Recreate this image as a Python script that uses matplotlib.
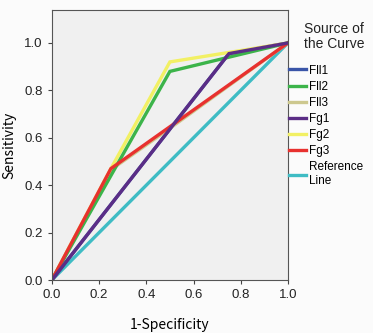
import matplotlib
matplotlib.use("Agg")
import matplotlib.pyplot as plt

# ROC points
fll1_x = [0.0, 0.75, 1.0]
fll1_y = [0.0, 0.955, 1.0]
fll2_x = [0.0, 0.25, 0.5, 0.75, 1.0]
fll2_y = [0.0, 0.44, 0.88, 0.94, 1.0]
fll3_x = [0.0, 0.25, 0.5, 1.0]
fll3_y = [0.0, 0.465, 0.64, 1.0]
fg1_x = [0.0, 0.75, 1.0]
fg1_y = [0.0, 0.955, 1.0]
fg2_x = [0.0, 0.25, 0.5, 0.75, 1.0]
fg2_y = [0.0, 0.47, 0.92, 0.96, 1.0]
fg3_x = [0.0, 0.25, 1.0]
fg3_y = [0.0, 0.47, 1.0]
ref_x = [0.0, 1.0]
ref_y = [0.0, 1.0]

labels = ["Fll1", "Fll2", "Fll3", "Fg1", "Fg2", "Fg3", "Reference\nLine"]
colors = ["#3a55a8", "#3cb44a", "#cdc88f", "#5b2d86", "#f2f064", "#e8312f", "#3fbcc4"]
xticks = [0.0, 0.2, 0.4, 0.6, 0.8, 1.0]
yticks = [0.0, 0.2, 0.4, 0.6, 0.8, 1.0]

plt.rcParams["font.family"] = ["Liberation Sans", "DejaVu Sans"]

fig = plt.figure(figsize=(3.73, 3.33), dpi=100, facecolor="#fbfbfb")
ax = fig.add_axes([0.139, 0.159, 0.633, 0.811])
ax.set_facecolor("#f0f0f0")

series = [(fll1_x, fll1_y), (fll2_x, fll2_y), (fll3_x, fll3_y), (fg1_x, fg1_y),
          (fg2_x, fg2_y), (fg3_x, fg3_y), (ref_x, ref_y)]
# draw order: reference first, then so purple covers blue and red covers tan
order = [6, 0, 2, 4, 1, 5, 3]
handles = [None] * len(series)
for i in order:
    x, y = series[i]
    ln, = ax.plot(x, y, color=colors[i], lw=2.4, label=labels[i], solid_joinstyle="miter")
    handles[i] = ln

ax.set_xlim(0, 1.0)
ax.set_ylim(0, 1.139)
ax.set_xticks(xticks); ax.set_xticklabels([f"{t:.1f}" for t in xticks])
ax.set_yticks(yticks); ax.set_yticklabels([f"{t:.1f}" for t in yticks])
ax.tick_params(labelsize=9.5, length=3, color="#444444", labelcolor="#222222")
for s in ax.spines.values():
    s.set_color("#555555"); s.set_linewidth(0.8)

ax.set_xlabel("1-Specificity", fontsize=10, family=["Noto Sans CJK SC", "DejaVu Sans"], labelpad=12)
ax.set_ylabel("Sensitivity", fontsize=10, family=["Noto Sans CJK SC", "DejaVu Sans"], labelpad=6)

fig.text(0.815, 0.935, "Source of\nthe Curve", fontsize=10, color="#222222",
         ha="left", va="top", linespacing=1.1)
leg = fig.legend(handles, labels, loc="upper left", bbox_to_anchor=(0.775, 0.806),
                 frameon=False, fontsize=8.5, handlelength=1.4, handletextpad=0.3,
                 labelspacing=0.35, borderaxespad=0.0, borderpad=0.0)

fig.savefig("out.png", dpi=100, facecolor=fig.get_facecolor())
